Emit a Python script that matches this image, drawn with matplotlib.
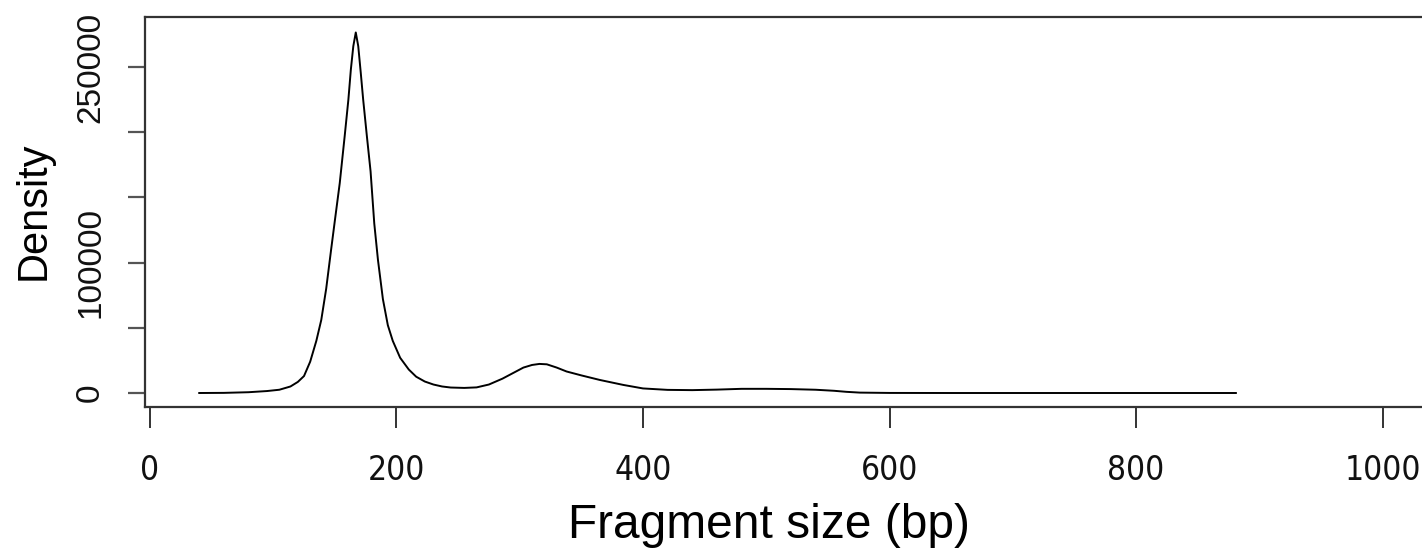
import matplotlib
matplotlib.use("Agg")
import matplotlib.pyplot as plt
from matplotlib import font_manager

# fragment size (bp) vs density
frag_size = [40, 60, 80, 95, 105, 114, 120, 125, 130, 135, 139, 143, 147, 150,
             154, 158, 161, 163, 165, 167, 169, 171, 173, 176, 179, 182, 185,
             189, 193, 197, 203, 210, 216, 223, 230, 237, 244, 255, 265, 275,
             286, 295, 303, 310, 316, 322, 330, 338, 350, 365, 384, 400, 420,
             440, 460, 480, 500, 520, 540, 555, 565, 576, 600, 650, 700, 750,
             800, 850, 881]
density = [0, 100, 600, 1500, 2500, 5000, 8500, 13000, 24000, 40000, 56000,
           80000, 110000, 132000, 161000, 197000, 225000, 248000, 266000,
           276500, 266000, 246000, 225000, 197000, 170000, 130000, 102000,
           72000, 52000, 40000, 27000, 18000, 12500, 8800, 6500, 5000, 4200,
           3900, 4300, 6500, 11000, 15500, 19500, 21500, 22300, 22000, 19500,
           16500, 13500, 10000, 6200, 3500, 2400, 2200, 2600, 3200, 3200,
           3000, 2500, 1700, 900, 300, 50, 0, 0, 0, 0, 0, 0]

xticks = [0, 200, 400, 600, 800, 1000]
yticks = [0, 50000, 100000, 150000, 200000, 250000]
ytick_labels = ['0', '', '100000', '', '', '250000']

installed = {f.name for f in font_manager.fontManager.ttflist}
narrow = 'Liberation Sans Narrow' if 'Liberation Sans Narrow' in installed else 'DejaVu Sans'
plt.rcParams['font.family'] = 'Liberation Sans'

fig = plt.figure(figsize=(14.22, 5.51), dpi=100)
ax = fig.add_axes([145 / 1422, 144 / 551, 1 - 145 / 1422, 390 / 551])

ax.plot(frag_size, density, color='black', lw=1.4, solid_joinstyle='round')

ax.set_xlim(-4, 1032)
ax.set_ylim(-10736, 288344)

for s in ['left', 'top', 'bottom']:
    ax.spines[s].set_linewidth(1.6)
    ax.spines[s].set_color('#333333')
ax.spines['right'].set_visible(False)

ax.set_xticks(xticks)
ax.set_xticklabels([str(t) for t in xticks], fontsize=24,
                   fontfamily=narrow, fontstretch='condensed', color='#111111')
ax.tick_params(axis='x', length=15, width=1.4, color='#333333', pad=19)

ax.set_yticks(yticks)
ax.set_yticklabels(ytick_labels, rotation=90, fontsize=24, va='center',
                   color='#111111')
ax.tick_params(axis='y', length=12, width=1.6, color='#555555', pad=16)

fig.text(34 / 1422, (551 - 211) / 551, 'Density', rotation=90,
         ha='center', va='center', fontsize=30)
fig.text(769 / 1422, (551 - 538) / 551, 'Fragment size (bp)',
         ha='center', va='baseline', fontsize=34.5)

fig.savefig('out.png', dpi=100)
